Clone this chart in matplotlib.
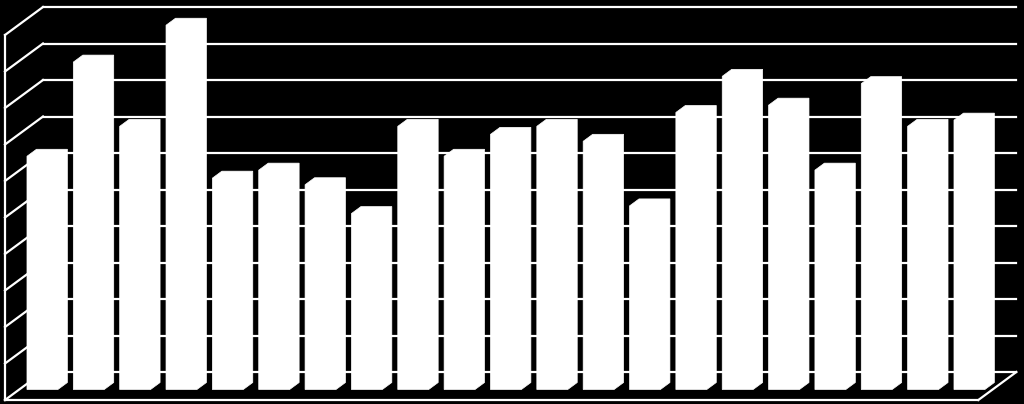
import matplotlib
matplotlib.use("Agg")
from matplotlib import pyplot as plt
from matplotlib.patches import Polygon

# bar values (gridlines are 1 unit apart, 0..10)
categories = list(range(1, 22))
values = [6.39, 8.97, 7.21, 9.98, 5.79, 6.01, 5.61, 4.82, 7.21, 6.39, 6.99,
          7.21, 6.80, 5.03, 7.59, 8.58, 7.79, 6.01, 8.38, 7.21, 7.38]
grid_levels = list(range(0, 11))

# oblique "3d" look: depth z=1 shifts a point by (kx, kv) in data units
px_cat = 46.35   # pixels per category
px_val = 36.5    # pixels per value unit
kx = 38.0 / px_cat
kv = 28.0 / px_val
z_front, z_back = 0.375, 0.625
bar_w = 2.0 / 3.0


def proj(x, v, z):
    return (x + z * kx, v + z * kv)


fig = plt.figure(figsize=(10.24, 4.04), dpi=100, facecolor="black")
ax = fig.add_axes([0, 0, 1, 1])
ax.set_facecolor("black")
ax.set_xlim(-5.0 / px_cat, (1024 - 5.0) / px_cat)
ax.set_ylim(-4.0 / px_val, 400.0 / px_val)
ax.axis("off")

n = len(categories)
lw = 1.6

# back wall and left wall gridlines
for k in grid_levels:
    x0, y0 = proj(0, k, 1)
    x1, y1 = proj(n, k, 1)
    ax.plot([x0, x1], [y0, y1], color="white", lw=lw, zorder=1)
    fx, fy = proj(0, k, 0)
    ax.plot([fx, x0], [fy, y0], color="white", lw=lw, zorder=1)

# left wall front edge
ax.plot([0, 0], [0, grid_levels[-1]], color="white", lw=lw, zorder=1)

# floor front edge and right edge
ax.plot([0, n], [0, 0], color="white", lw=lw, zorder=3)
rx, ry = proj(n, 0, 1)
ax.plot([n, rx], [0, ry], color="white", lw=lw, zorder=3)

# bars
for i, v in enumerate(values):
    xl = i + 0.5 - bar_w / 2
    xr = i + 0.5 + bar_w / 2
    pts = [proj(xl, 0, z_front), proj(xr, 0, z_front), proj(xr, 0, z_back),
           proj(xr, v, z_back), proj(xl, v, z_back), proj(xl, v, z_front)]
    ax.add_patch(Polygon(pts, closed=True, facecolor="white",
                         edgecolor="white", lw=0.5, zorder=2))

fig.savefig("out.png", dpi=100, facecolor="black")
